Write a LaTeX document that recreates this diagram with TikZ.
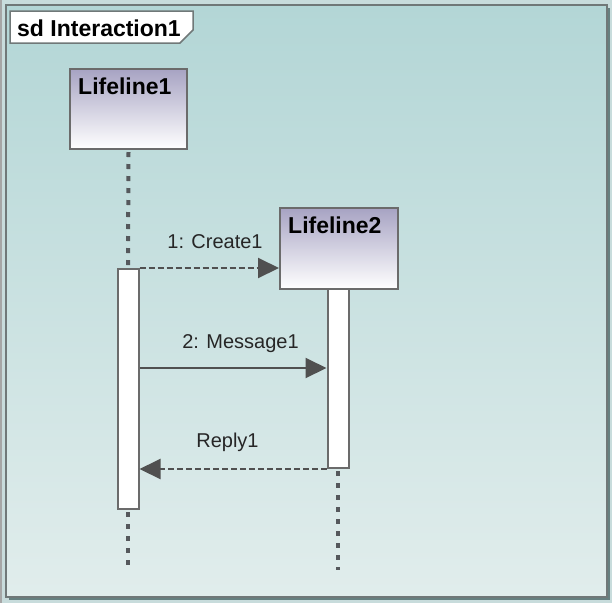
\documentclass[tikz,border=0pt]{standalone}
\usepackage{fontspec}
\setmainfont{Liberation Sans}
\usetikzlibrary{arrows.meta}
\definecolor{bgout}{HTML}{C8DCDC}
\definecolor{frametop}{HTML}{B3D6D6}
\definecolor{framebot}{HTML}{E1EDEC}
\definecolor{lineg}{HTML}{6B6B6B}
\definecolor{dotg}{HTML}{55585C}
\definecolor{framel}{HTML}{707878}
\definecolor{lltop}{HTML}{A7A3C3}
\definecolor{arrowg}{HTML}{505050}
\tikzset{
  lifebox/.style={draw=lineg, line width=2pt, top color=lltop, bottom color=white, anchor=north west, inner sep=0pt},
  lltext/.style={font=\fontsize{23}{26}\selectfont\bfseries, anchor=base west, inner sep=0pt},
  msgtext/.style={font=\fontsize{20}{24}\selectfont, anchor=base, inner sep=0pt, text=black!85},
  actbar/.style={draw=lineg, line width=2pt, fill=white},
  lifeline/.style={draw=dotg, line width=4pt, dash pattern=on 5pt off 7pt},
  msgline/.style={draw=lineg, line width=2pt, -{Triangle[length=21pt,width=20pt]}, arrowg},
  dashmsg/.style={msgline, dash pattern=on 6pt off 3pt},
}
\begin{document}
\begin{tikzpicture}[x=1pt,y=-1pt]
\useasboundingbox (0,0) rectangle (612,603);
% outer background
\fill[bgout] (0,0) rectangle (612,603);
\draw[gray!70, line width=1.5pt] (0.75,0) -- (0.75,603);
% frame shadow
\draw[gray!80!teal, line width=2pt] (9,599) -- (609,599) -- (609,8);
% frame
\shade[top color=frametop, bottom color=framebot] (6,5) rectangle (607,597);
\draw[framel, line width=2.5pt] (6,5) rectangle (607,597);
% tab
\filldraw[fill=white, draw=framel, line width=1.5pt] (10,11) -- (193,11) -- (193,30) -- (180,43) -- (10,43) -- cycle;
\node[lltext] (title) at (17,36) {sd Interaction1};
% lifeline heads
\node[lifebox, minimum width=117pt, minimum height=80pt] (L1) at (69,68) {};
\node[lltext] (L1t) at (78,94.5) {Lifeline1};
\node[lifebox, minimum width=118pt, minimum height=81pt] (L2) at (279,207) {};
\node[lltext] (L2t) at (288,233) {Lifeline2};
% lifelines
\coordinate (l1end) at (128,570);
\coordinate (l2end) at (338,570);
\node[actbar, minimum width=21pt, minimum height=240pt, inner sep=0pt, anchor=north] (A1) at (128,268) {};
\node[actbar, minimum width=21pt, minimum height=179pt, inner sep=0pt, anchor=north] (A2) at (338,288) {};
\draw[lifeline] (L1.south) ++(0,2) -- (A1.north);
\draw[lifeline] (A1.south) ++(0,2) -- (l1end);
\draw[lifeline] (A2.south) ++(0,2) -- (l2end);
% messages
\draw[dashmsg] (A1.north east) -- (L2.west |- A1.north);
\node[msgtext] (m1) at (215,248) {1: Create1};
\draw[msgline] (A1.east |- 0,368) -- (A2.west |- 0,368);
\node[msgtext] (m2) at (240.5,348) {2: Message1};
\draw[dashmsg] (A2.south west) -- (A1.east |- A2.south);
\node[msgtext] (m3) at (227.5,447) {Reply1};
\end{tikzpicture}
\end{document}
